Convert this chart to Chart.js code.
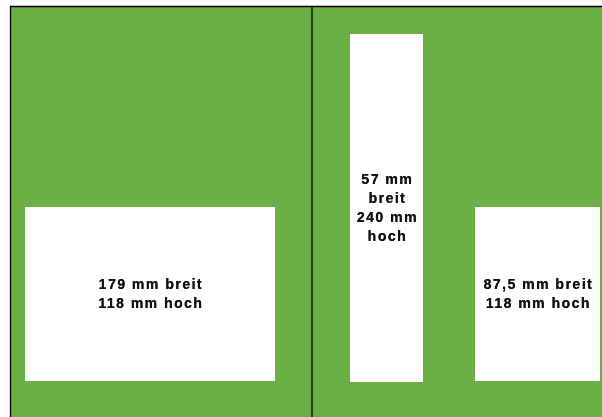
<!DOCTYPE html>
<html>
<head>
<meta charset="utf-8">
<script src="https://cdn.jsdelivr.net/npm/chart.js@4/dist/chart.umd.min.js"></script>
<style>
  html, body { margin: 0; padding: 0; background: #ffffff; }
  #wrap { width: 602px; height: 417px; }
</style>
</head>
<body>
<div id="wrap"><canvas id="c" width="602" height="417"></canvas></div>
<script>
// Layout extents of the spread (units of the diagram)
const spreadX = [11, 602];
const spreadY = [7, 417];
const spineX = 312;

// Ad boxes: left / right / top / bottom edges
const boxNames   = ["Querformat", "Hochformat", "Rechts"];
const boxLeft    = [25, 350, 475];
const boxRight   = [275, 423, 600];
const boxTop     = [207, 34, 207];
const boxBottom  = [381, 382, 381];

// Box labels (lines of text)
const boxLabels = [
  ["179 mm breit", "118 mm hoch"],
  ["57 mm", "breit", "240 mm", "hoch"],
  ["87,5 mm breit", "118 mm hoch"]
];

const GREEN = "rgb(107,176,71)";

const datasets = boxNames.map((name, i) => ({
  label: name,
  data: [{x: boxLeft[i], y: boxTop[i]}, {x: boxRight[i], y: boxTop[i]}],
  showLine: true,
  borderWidth: 0,
  borderColor: "rgba(0,0,0,0)",
  pointRadius: 0,
  backgroundColor: "#ffffff",
  fill: {value: boxBottom[i]}
}));

datasets.push({
  label: "Falz",
  data: [{x: spineX, y: spreadY[0]}, {x: spineX, y: spreadY[1]}],
  showLine: true,
  borderWidth: 1.6,
  borderColor: "#1b1f17",
  pointRadius: 0,
  fill: false
});

const framePlugin = {
  id: "frame",
  beforeDatasetsDraw(chart) {
    const {ctx, chartArea: a} = chart;
    ctx.save();
    ctx.fillStyle = GREEN;
    ctx.fillRect(a.left, a.top, a.right - a.left, a.bottom - a.top);
    ctx.restore();
  },
  afterDatasetsDraw(chart) {
    const {ctx, chartArea: a, scales} = chart;
    ctx.save();
    ctx.strokeStyle = "#000";
    ctx.lineWidth = 1.3;
    ctx.beginPath();
    ctx.moveTo(a.left - 0.5, a.bottom);
    ctx.lineTo(a.left - 0.5, a.top - 0.5);
    ctx.lineTo(a.right, a.top - 0.5);
    ctx.stroke();
    // labels
    ctx.fillStyle = "#111111";
    ctx.font = "bold 14px 'Liberation Sans', Arial, sans-serif";
    ctx.textAlign = "center";
    ctx.textBaseline = "middle";
    try { ctx.letterSpacing = "1.5px"; } catch (e) {}
    const lh = 18.8;
    boxLabels.forEach((lines, i) => {
      const cx = (scales.x.getPixelForValue(boxLeft[i]) + scales.x.getPixelForValue(boxRight[i])) / 2 + 0.8;
      const cy = (scales.y.getPixelForValue(boxTop[i]) + scales.y.getPixelForValue(boxBottom[i])) / 2;
      const start = cy - (lines.length - 1) * lh / 2;
      lines.forEach((t, k) => {
        ctx.fillText(t, cx, start + k * lh + 0.8);
        ctx.fillText(t, cx + 0.25, start + k * lh + 0.8);
      });
    });
    ctx.restore();
  }
};

new Chart(document.getElementById("c"), {
  type: "scatter",
  data: { datasets },
  options: {
    responsive: false,
    animation: false,
    devicePixelRatio: 1,
    layout: { padding: { left: spreadX[0], top: spreadY[0], right: 0, bottom: 0 } },
    plugins: { legend: { display: false }, tooltip: { enabled: false } },
    scales: {
      x: { type: "linear", min: spreadX[0], max: spreadX[1], display: false },
      y: { type: "linear", min: spreadY[0], max: spreadY[1], reverse: true, display: false }
    }
  },
  plugins: [framePlugin]
});
</script>
</body>
</html>
